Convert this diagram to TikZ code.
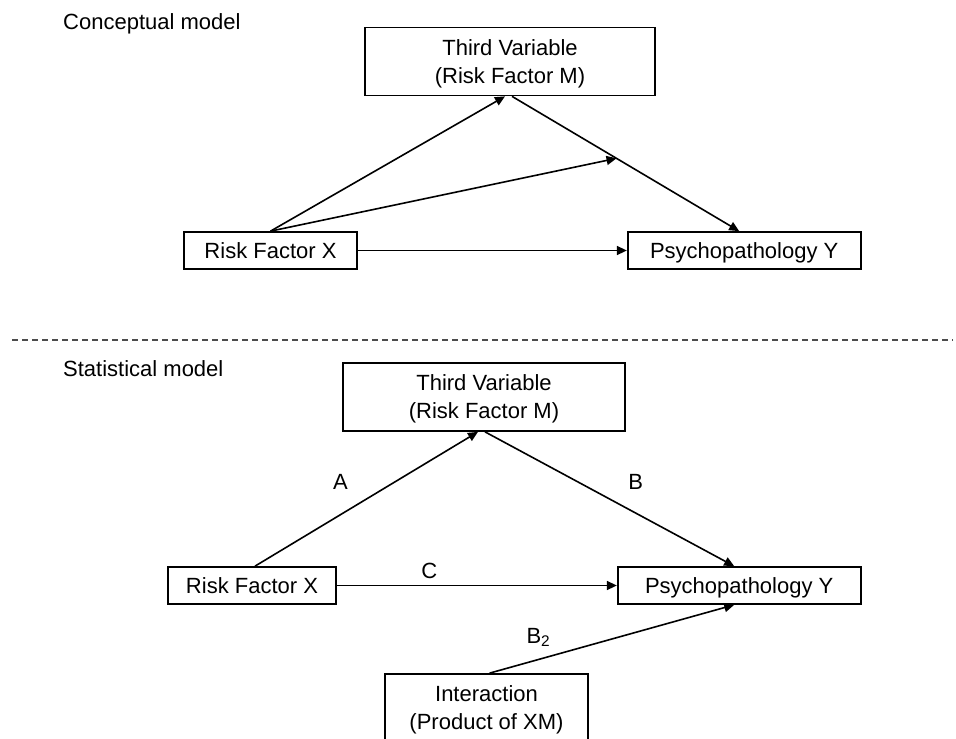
\documentclass[tikz,border=0pt]{standalone}
\usepackage{fontspec}
\setmainfont{Liberation Sans}
\usetikzlibrary{positioning,arrows.meta}

\begin{document}
\begin{tikzpicture}[x=1pt,y=-1pt,
        var/.style={draw,line width=1.7pt,align=center,font={\fontsize{22}{28}\selectfont},text depth=0pt,inner sep=0pt,minimum height=37pt},
        twoline/.style={var,minimum height=68pt},
        link/.style={-{Triangle[length=10pt,width=9pt]},line width=1.6pt},
        lbl/.style={font={\fontsize{22}{28}\selectfont},inner sep=0pt},
        title/.style={font={\fontsize{22}{28}\selectfont},anchor=base west,inner sep=0pt},
        sepline/.style={dash pattern=on 6pt off 4pt,line width=1.6pt,black!70}]
        \useasboundingbox (0,0) rectangle (956,739);
        % conceptual model
        \node[title] (concept) at (63,29) {Conceptual model};
        \node[twoline,minimum width=290pt] (third) at (510,61.5) {Third Variable\\(Risk Factor M)};
        \node[var,minimum width=173pt] (riskx) at (270.5,250.5) {Risk Factor X};
        \node[var,minimum width=233pt,right=269pt of riskx] (psychy) {Psychopathology Y};
        \draw[link] (riskx.north) -- ([xshift=-5pt]third.south);
        \draw[link] ([xshift=2pt]third.south) -- coordinate[pos=0.46] (moder) ([xshift=-5pt]psychy.north);
        \draw[link] (riskx.north) -- (moder);
        \draw[link] (riskx) -- (psychy);
        % separator
        \coordinate (sepl) at (12,340);
        \coordinate (sepr) at (953,340);
        \draw[sepline] (sepl) -- (sepr);
        % statistical model
        \node[title] (statist) at (63,376) {Statistical model};
        \node[twoline,minimum width=282pt] (third2) at (484,397) {Third Variable\\(Risk Factor M)};
        \node[var,minimum width=168pt] (riskx2) at (252,585.5) {Risk Factor X};
        \node[var,minimum width=243pt,right=280pt of riskx2] (psychy2) {Psychopathology Y};
        \node[twoline,minimum width=203pt] (inter) at (486.5,708) {Interaction\\(Product of XM)};
        \draw[link] ([xshift=3pt]riskx2.north) -- node[lbl,xshift=-26pt,yshift=17pt]{A} ([xshift=-6pt]third2.south);
        \draw[link] ([xshift=1pt]third2.south) -- node[lbl,xshift=26pt,yshift=17pt]{B} ([xshift=-5pt]psychy2.north);
        \draw[link] (riskx2) -- node[lbl,pos=0.33,yshift=15pt]{C} (psychy2);
        \draw[link] ([xshift=3pt]inter.north) -- node[lbl,pos=0.2,yshift=22pt]{B\textsubscript{2}} ([xshift=-5pt]psychy2.south);
\end{tikzpicture}
\end{document}
